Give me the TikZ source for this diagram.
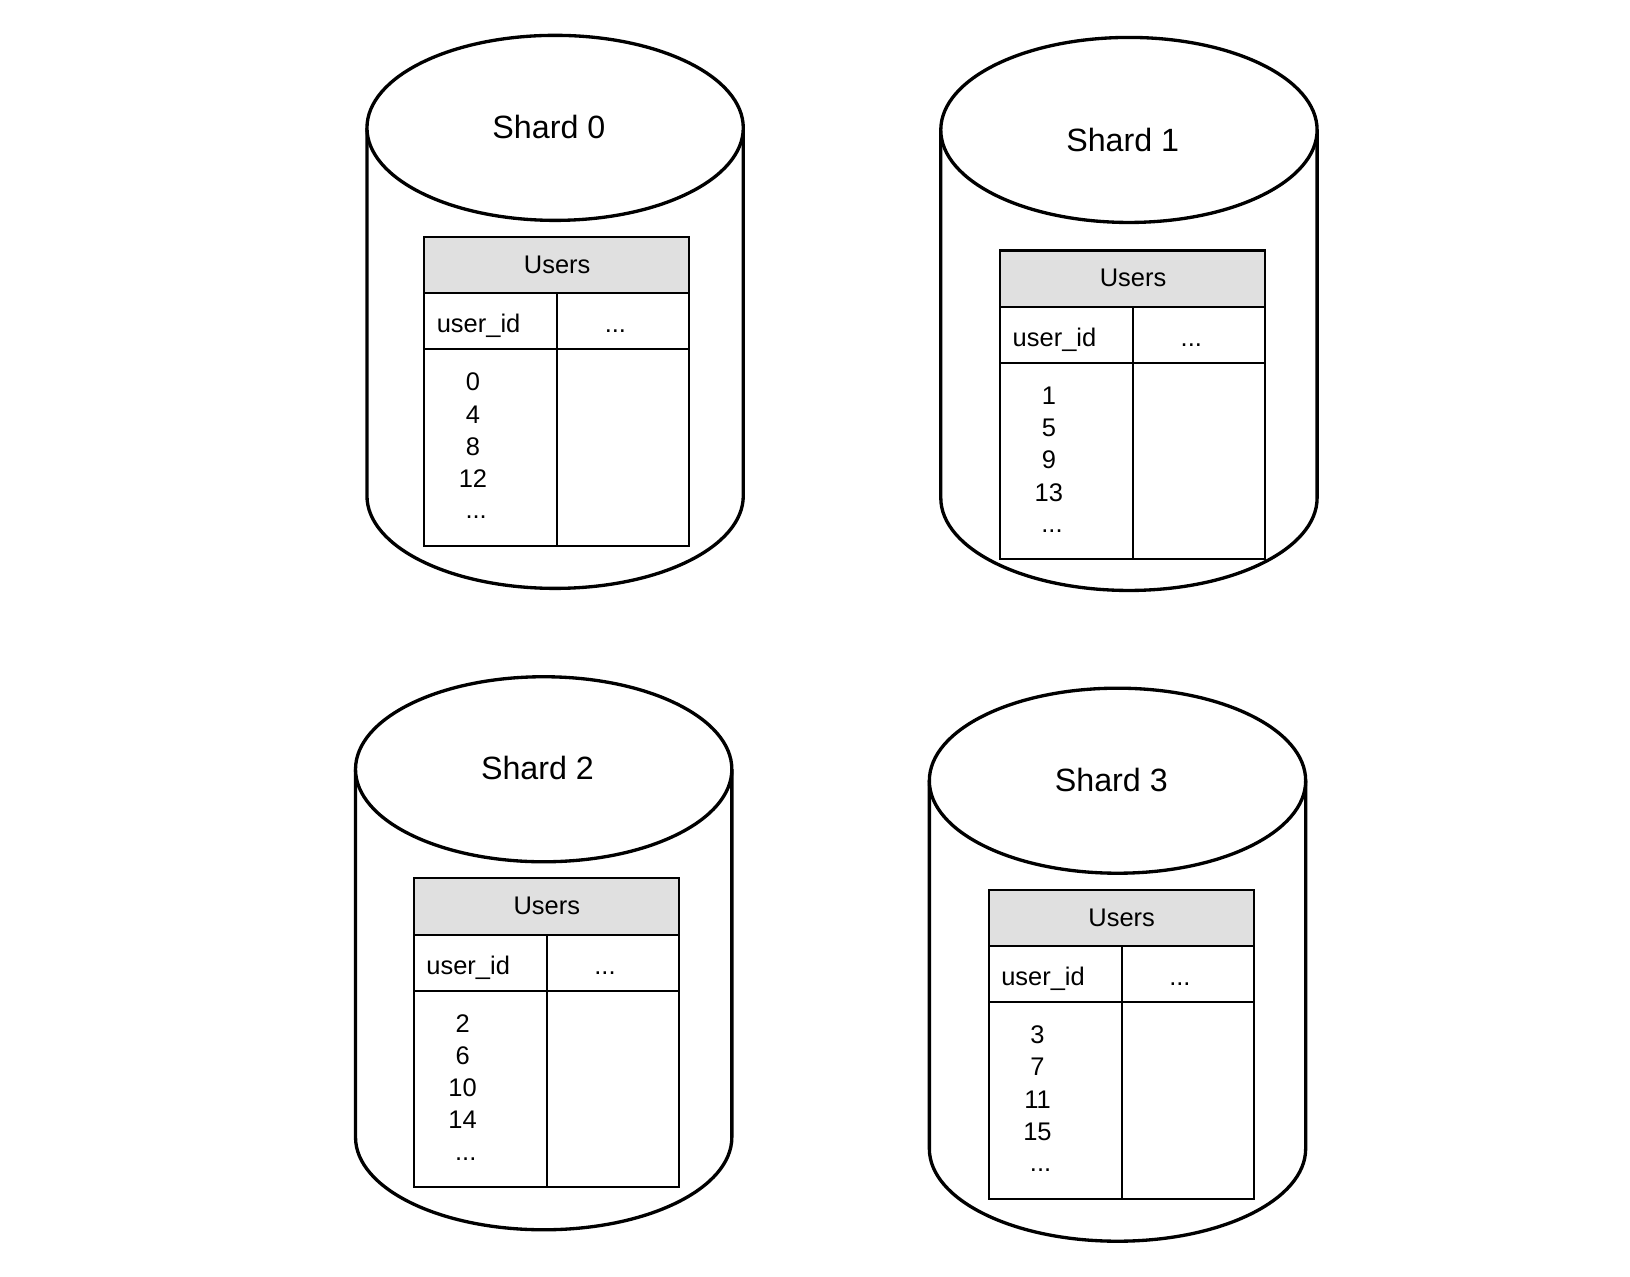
\documentclass[tikz,border=0pt]{standalone}
\usepackage{fontspec}
\setmainfont{Liberation Sans}
\definecolor{hdrgray}{HTML}{E0E0E0}
\tikzset{
  cyl/.style={line width=3.2pt, draw=black, fill=white},
  tbl/.style={line width=2pt, draw=black},
  shardlbl/.style={inner sep=0pt, anchor=base, font=\fontsize{31}{37}\selectfont},
  cell/.style={inner sep=0pt, anchor=base, font=\fontsize{24.5}{30}\selectfont},
}
% #1 id, #2 x, #3 y, #4 label, #5 label baseline, #6 table dx, #7 table dy, #8 numbers
\newcommand{\mkshard}[8]{%
  \begin{scope}[shift={(#2,#3)}]
    \draw[cyl] (0,89) -- (0,443) arc[start angle=180, end angle=360, x radius=181pt, y radius=89pt] -- (362,89);
    \draw[cyl] (181,89) ellipse[x radius=181pt, y radius=89pt];
    \node[shardlbl] (#1-lbl) at (175,#5) {#4};
    \begin{scope}[shift={(#6,#7)}]
      \draw[tbl, fill=hdrgray] (0,0) rectangle (255,54);
      \draw[tbl, fill=white] (0,54) rectangle (255,297);
      \draw[tbl] (0,108) -- (255,108);
      \draw[tbl] (128,54) -- (128,297);
      \node[cell] (#1-users) at (128,35) {Users};
      \node[cell, anchor=base west] (#1-uid) at (12,92) {user\_id};
      \node[cell] (#1-cdots) at (184,92) {...};
      \foreach \v [count=\i] in {#8} {
        \node[cell] (#1-n\i) at (47,{148+31*(\i-1)}) {\v};
      }
      \node[cell] (#1-ndots) at (50,271) {...};
    \end{scope}
  \end{scope}
}
\begin{document}
\begin{tikzpicture}[x=1pt, y=-1pt]
  \useasboundingbox (0,0) rectangle (1568,1227.5);
  \mkshard{s0}{353}{34}{Shard 0}{99}{55}{194}{0,4,8,12}
  \mkshard{s1}{905}{36}{Shard 1}{110}{57}{205}{1,5,9,13}
  \mkshard{s2}{342}{651}{Shard 2}{99}{56}{194}{2,6,10,14}
  \mkshard{s3}{894}{662}{Shard 3}{99}{57}{194}{3,7,11,15}
\end{tikzpicture}
\end{document}
